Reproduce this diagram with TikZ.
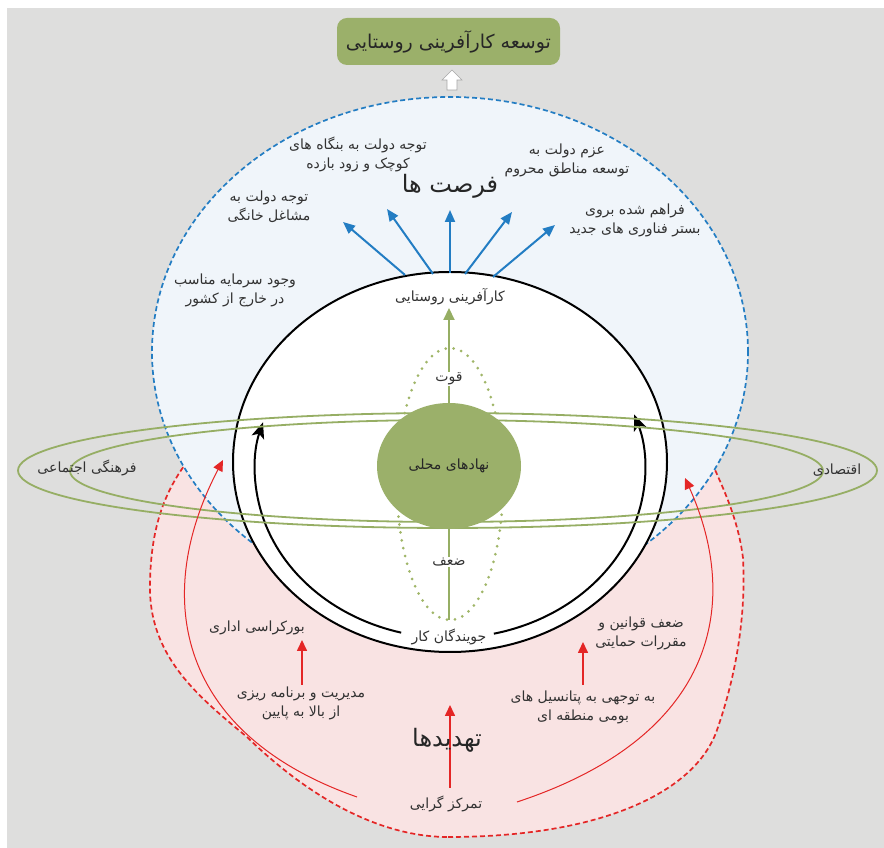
\documentclass[tikz,border=0pt]{standalone}
\usepackage{fontspec}
\newfontfamily\farsifont[Script=Arabic]{DejaVu Sans}
\TeXXeTstate=1
\usetikzlibrary{arrows.meta,shapes.geometric}

\definecolor{bggray}{RGB}{222,222,221}
\definecolor{opppale}{RGB}{240,245,250}
\definecolor{oppblue}{RGB}{35,125,195}
\definecolor{thrpink}{RGB}{249,227,227}
\definecolor{thrred}{RGB}{228,38,38}
\definecolor{discgreen}{RGB}{155,176,106}
\definecolor{ringgreen}{RGB}{150,174,100}
\definecolor{dotgreen}{RGB}{160,182,104}
\definecolor{txtgray}{RGB}{50,50,50}

\newcommand{\fatext}[1]{\beginR #1\endR}

\tikzset{
  lbl/.style={font=\fontsize{14}{19}\selectfont\farsifont, text=txtgray, align=center, inner sep=1pt},
  biglbl/.style={font=\fontsize{24}{27}\selectfont\farsifont, text=black!85, inner sep=1pt},
  oppdash/.style={line width=1.7pt, dash pattern=on 5pt off 3pt},
  thrdash/.style={line width=1.7pt, dash pattern=on 5pt off 3pt},
  bluearrow/.style={draw=oppblue, line width=2pt, -{Triangle[length=12pt,width=10pt]}},
  redarrow/.style={draw=thrred, line width=1.6pt, -{Triangle[length=11pt,width=10pt]}},
  redcurve/.style={draw=thrred, line width=1pt, -{Triangle[length=11pt,width=10pt]}},
  blackarrow/.style={draw=black, line width=2pt, -{Stealth[length=16pt,width=13pt,inset=4pt]}},
  ring/.style={draw=ringgreen, line width=1.8pt},
}

\begin{document}
\begin{tikzpicture}[x=1pt,y=1pt]
        \useasboundingbox (0,0) rectangle (884,848);
        \fill[bggray] (7,0) rectangle (884,840);

        % threats and opportunities
        \filldraw[fill=thrpink, draw=thrred, thrdash] (448,11)
            .. controls (600,11) and (695,55) .. (717,118)
            .. controls (737,175) and (746,235) .. (743,290)
            .. controls (738,330) and (722,362) .. (712,385)
            .. controls (660,450) and (560,505) .. (448,505)
            .. controls (340,505) and (240,460) .. (184,382)
            .. controls (165,355) and (150,320) .. (150,260)
            .. controls (150,190) and (200,150) .. (247,111)
            .. controls (320,40) and (390,11) .. (448,11) -- cycle;
        \filldraw[fill=opppale, draw=oppblue, oppdash] (450,496) ellipse [x radius=298, y radius=255];
        \filldraw[fill=white, draw=black, line width=2pt] (450,386) ellipse [x radius=217, y radius=190];

        \coordinate (innerc) at (450,378);
        \draw[blackarrow] (innerc) ++(255.5:195 and 168) arc[start angle=255.5, end angle=163.5, x radius=195, y radius=168];
        \draw[blackarrow] (innerc) ++(283:195 and 168) arc[start angle=283, end angle=379.3, x radius=195, y radius=168];

        \draw[ring] (447.5,377.5) ellipse [x radius=429.5, y radius=57.5];
        \draw[ring] (446.5,377) ellipse [x radius=376.5, y radius=51];
        \draw[draw=dotgreen, line width=3pt, line cap=round, dash pattern=on 0pt off 8pt] (450,364) ellipse [x radius=53, y radius=136];

        \node[ellipse, fill=discgreen, minimum width=144pt, minimum height=126pt, inner sep=0pt, lbl, text=black!85] (local) at (449,382) {\fatext{نهادهای محلی}};

        \coordinate (gtip) at (449,540);
        \coordinate (gbot) at (449,228);
        \draw[draw=ringgreen, line width=2pt, -{Triangle[length=12pt,width=11pt]}] (local.north) -- (gtip);
        \draw[draw=ringgreen, line width=2pt] (local.south) -- (gbot);
        \node[lbl, fill=white] (strong) at (449,469) {\fatext{قوت}};
        \node[lbl, fill=white] (weak) at (449,286) {\fatext{ضعف}};

        % top
        \node[fill=discgreen, rounded corners=10pt, minimum width=223pt, minimum height=47pt,
              font=\fontsize{19}{21}\selectfont\farsifont, text=black!85] (title) at (448.5,806.5) {\fatext{توسعه کارآفرینی روستایی}};
        \filldraw[fill=white, draw=gray!70, line width=0.6pt] (447,758) -- (447,768) -- (442,768) -- (452,778)
                 -- (462,768) -- (457,768) -- (457,758) -- cycle;

        % opportunities
        \coordinate (o1) at (405,573); \coordinate (p1) at (343,626);
        \coordinate (o2) at (433,574); \coordinate (p2) at (387,639);
        \coordinate (o3) at (450,575); \coordinate (p3) at (450,638);
        \coordinate (o4) at (465,574); \coordinate (p4) at (512,636);
        \coordinate (o5) at (493,571); \coordinate (p5) at (555,623);
        \draw[bluearrow] (o1) -- (p1);
        \draw[bluearrow] (o2) -- (p2);
        \draw[bluearrow] (o3) -- (p3);
        \draw[bluearrow] (o4) -- (p4);
        \draw[bluearrow] (o5) -- (p5);

        \node[biglbl] (oppbig) at (450,662) {\fatext{فرصت ها}};
        \node[lbl] (smalla) at (358,694) {\fatext{توجه دولت به بنگاه های}\\\fatext{کوچک و زود بازده}};
        \node[lbl] (smallb) at (567,688) {\fatext{عزم دولت به}\\\fatext{توسعه مناطق محروم}};
        \node[lbl] (smallc) at (269,641) {\fatext{توجه دولت به}\\\fatext{مشاغل خانگی}};
        \node[lbl] (smalld) at (635,628) {\fatext{فراهم شده بروی}\\\fatext{بستر فناوری های جدید}};
        \node[lbl] (smalle) at (235,558) {\fatext{وجود سرمایه مناسب}\\\fatext{در خارج از کشور}};
        \node[lbl] (ent) at (450,551) {\fatext{کارآفرینی روستایی}};
        \node[lbl] (social) at (87,380) {\fatext{فرهنگی اجتماعی}};
        \node[lbl] (econ) at (837,378) {\fatext{اقتصادی}};
        \node[lbl] (jobs) at (449,211) {\fatext{جویندگان کار}};

        % threats
        \coordinate (lc0) at (357,51); \coordinate (lc1) at (223,388);
        \coordinate (rc0) at (517,46); \coordinate (rc1) at (685,370);
        \draw[redcurve] (lc0) .. controls (180,113) and (150,248) .. (lc1);
        \draw[redcurve] (rc0) .. controls (720,113) and (740,248) .. (rc1);

        \coordinate (cr0) at (450,60); \coordinate (cr1) at (450,143);
        \coordinate (lr0) at (302,163); \coordinate (lr1) at (302,208);
        \coordinate (rr0) at (583,163); \coordinate (rr1) at (583,206);
        \draw[redarrow] (cr0) -- (cr1);
        \draw[redarrow] (lr0) -- (lr1);
        \draw[redarrow] (rr0) -- (rr1);

        \node[lbl] (bureau) at (257,220) {\fatext{بورکراسی اداری}};
        \node[lbl] (laws) at (641,215) {\fatext{ضعف قوانین و}\\\fatext{مقررات حمایتی}};
        \node[lbl] (mgmt) at (301,145) {\fatext{مدیریت و برنامه ریزی}\\\fatext{از بالا به پایین}};
        \node[lbl] (potential) at (583,141) {\fatext{به توجهی به پتانسیل های}\\\fatext{بومی منطقه ای}};
        \node[biglbl] (thrbig) at (447,108) {\fatext{تهدیدها}};
        \node[lbl] (central) at (446,44) {\fatext{تمرکز گرایی}};

    \end{tikzpicture}
\end{document}
